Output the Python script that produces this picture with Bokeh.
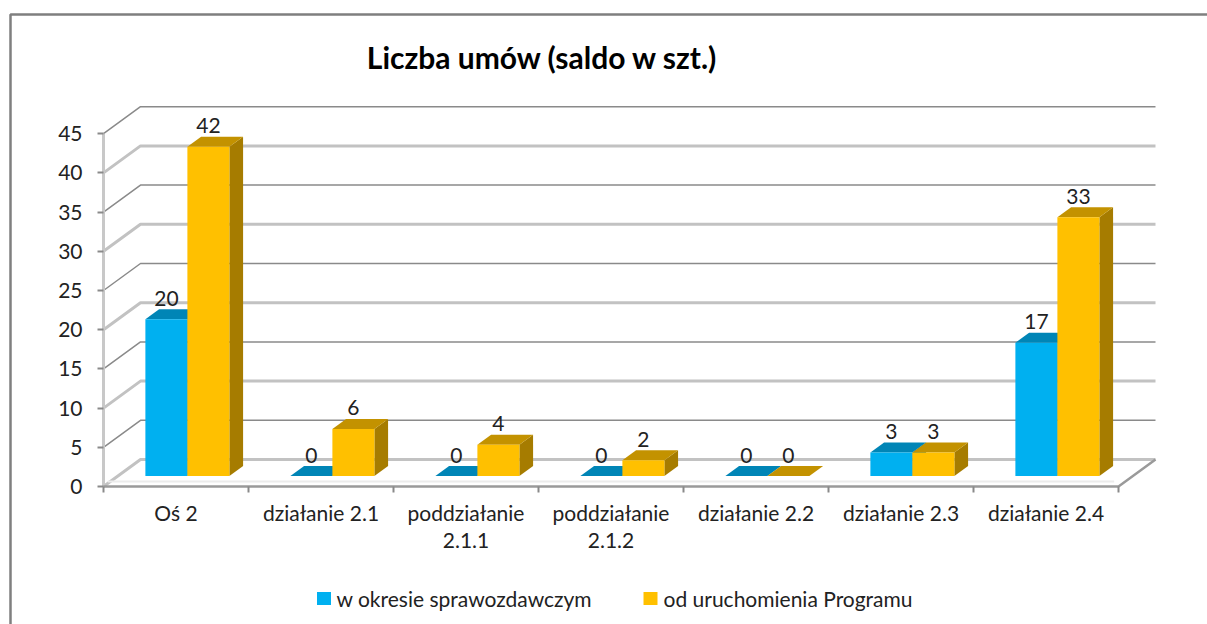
from bokeh.plotting import figure
from bokeh.models import Range1d, LinearAxis, FixedTicker
from bokeh.embed import file_html
from bokeh.resources import INLINE
from bokeh.core.properties import value

# ---------------- data ----------------
title_text = "Liczba umów (saldo w szt.)"
categories = ["Oś 2", "działanie 2.1", "poddziałanie\n2.1.1", "poddziałanie\n2.1.2",
              "działanie 2.2", "działanie 2.3", "działanie 2.4"]
series_names = ["w okresie sprawozdawczym", "od uruchomienia Programu"]
values_period = [20, 0, 0, 0, 0, 3, 17]
values_total = [42, 6, 4, 2, 0, 3, 33]
y_ticks = [0, 5, 10, 15, 20, 25, 30, 35, 40, 45]

# ---------------- layout constants (page pixels) ----------------
W, H = 1207, 624
M = 0
X0, Y0 = 103, 486          # front-plane origin (category 0 start, value 0)
SX, SY = 145.0, 7.84       # px per category, px per unit
DXP, DYP = 37.0, 27.0      # depth of the floor (oblique projection)
FONT = "Lato"
FS = "21px"

def px(xp):
    return (xp - X0) / SX

def py(yp):
    return (Y0 - yp) / SY

ddx, ddy = DXP / SX, DYP / SY
n = len(categories)

p = figure(width=W, height=H, output_backend="svg", toolbar_location=None,
           x_range=Range1d(px(M), px(M + W)), y_range=Range1d(py(M + H), py(M)),
           x_axis_type=None, y_axis_type=None, min_border=0)
p.outline_line_color = None
p.background_fill_color = "white"
p.border_fill_color = "white"

# chart border (top and left visible)
p.line([px(10), px(10), px(1240)], [py(680), py(14), py(14)], line_color="#7f7f7f", line_width=2.5)

# ---------------- walls / gridlines ----------------
top_t = max(y_ticks)
even = [t for t in y_ticks if t % 10 == 0]
odd = [t for t in y_ticks if t % 10 != 0]
p.multi_line([[0, ddx, n + ddx] for t in even], [[t, t + ddy, t + ddy] for t in even],
             line_color="#c2c2c2", line_width=3)
p.multi_line([[0, ddx, n + ddx] for t in odd], [[t, t + ddy, t + ddy] for t in odd],
             line_color="#8a8a8a", line_width=1.5)
# front vertical axis line
p.line([0, 0], [0, top_t], line_color="#c8c8c8", line_width=3)
# floor
p.line([0, n, n + ddx], [0, 0, ddy], line_color="#9a9a9a", line_width=2.5)
p.line([0.03, n - 0.03], [5 / SY, 5 / SY], line_color="#ececec", line_width=2)

# ---------------- bars ----------------
BW = 42 / SX
OFF = -3 / SX
d1 = 10.5 / DYP
d2 = 20.5 / DYP
sdx, sdy = (d2 - d1) * ddx, (d2 - d1) * ddy

styles = [("#00b0f0", "#0085b6", "#006f99"), ("#ffc000", "#c39200", "#a67c00")]
label_x, label_y, label_t = [], [], []
for s, vals in enumerate([values_period, values_total]):
    fx, fy, tx, ty, sx_, sy_ = [], [], [], [], [], []
    for i, v in enumerate(vals):
        xl = i + 0.5 - BW + s * BW + OFF + d1 * ddx
        xr = xl + BW
        yb = d1 * ddy
        yt = v + d1 * ddy
        fx.append([xl, xr, xr, xl]); fy.append([yb, yb, yt, yt])
        tx.append([xl, xr, xr + sdx, xl + sdx]); ty.append([yt, yt, yt + sdy, yt + sdy])
        sx_.append([xr, xr + sdx, xr + sdx, xr]); sy_.append([yb, yb + sdy, yt + sdy, yt])
        label_x.append((xl + xr) / 2)
        label_y.append(yt + sdy + 11 / SY)
        label_t.append(str(v))
    front, top, side = styles[s]
    p.patches(sx_, sy_, fill_color=side, line_color=None)
    p.patches(tx, ty, fill_color=top, line_color=None)
    p.patches(fx, fy, fill_color=front, line_color=None)

p.text(label_x, label_y, text=label_t, text_align="center", text_baseline="alphabetic",
       text_font=value(FONT), text_font_size=FS, text_color="#222222")

# ---------------- axes ----------------
yax = LinearAxis(fixed_location=0, ticker=FixedTicker(ticks=y_ticks))
yax.axis_line_color = None
yax.major_tick_line_color = "#8a8a8a"
yax.major_tick_line_width = 2
yax.major_tick_out = 6
yax.major_tick_in = 0
yax.minor_tick_line_color = None
yax.major_label_standoff = 15
yax.major_label_text_font = FONT
yax.major_label_text_font_size = FS
yax.major_label_text_color = "#222222"
p.add_layout(yax, "left")

centers = [i + 0.5 for i in range(n)]
xax = LinearAxis(fixed_location=0,
                 ticker=FixedTicker(ticks=centers, minor_ticks=list(range(n + 1))))
xax.major_label_overrides = {c: lab for c, lab in zip(centers, categories)}
xax.axis_line_color = None
xax.major_tick_line_color = None
xax.minor_tick_line_color = "#8a8a8a"
xax.minor_tick_line_width = 2
xax.minor_tick_out = 6
xax.minor_tick_in = 0
xax.major_label_standoff = 7
xax.major_label_text_font = FONT
xax.major_label_text_font_size = FS
xax.major_label_text_color = "#222222"
xax.major_label_text_line_height = 1.1
p.add_layout(xax, "below")

# ---------------- title ----------------
p.text([px(542)], [py(56)], text=[title_text], text_align="center", text_baseline="middle",
       text_font=value(FONT), text_font_style="bold", text_font_size="30px", text_color="#000000")

# ---------------- legend ----------------
leg_sq_x = [px(323.5), px(650)]
leg_txt_x = [px(336), px(663)]
leg_y = [py(598), py(598)]
p.rect(leg_sq_x, leg_y, width=14, height=13, width_units="screen", height_units="screen",
       fill_color=[styles[0][0], styles[1][0]], line_color=None)
p.text(leg_txt_x, leg_y, text=series_names, text_align="left", text_baseline="middle",
       text_font=value(FONT), text_font_size=FS, text_color="#222222")

open("out.html", "w").write(file_html(p, INLINE))
